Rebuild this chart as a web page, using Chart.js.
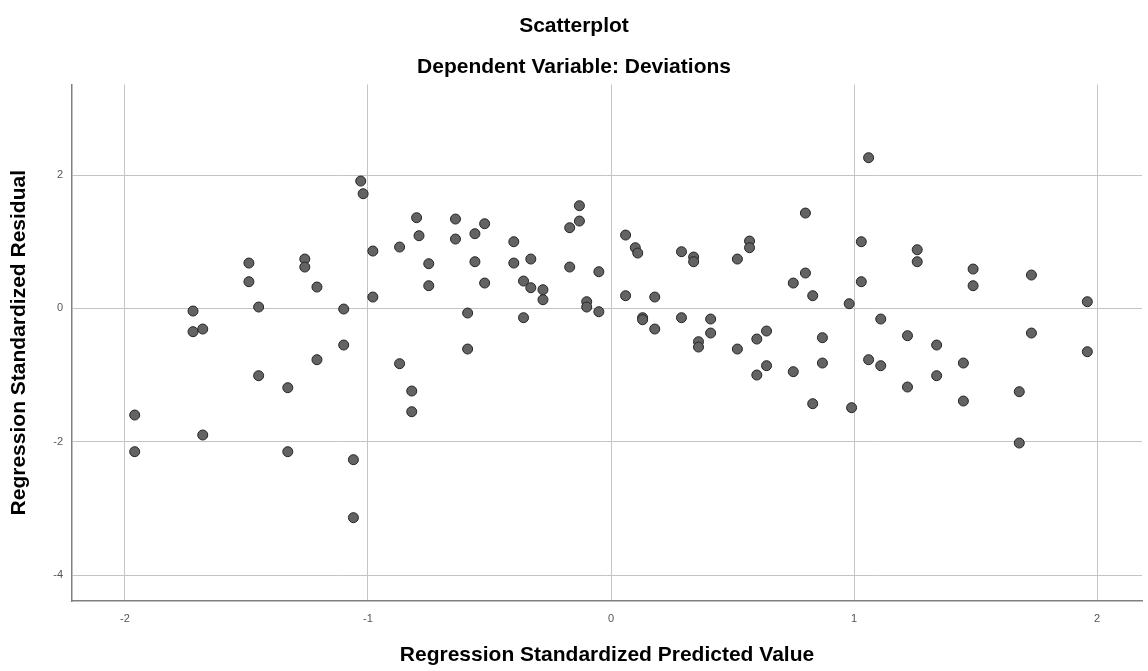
<!DOCTYPE html>
<html>
<head>
<meta charset="utf-8">
<title>Scatterplot</title>
<script src="https://cdn.jsdelivr.net/npm/chart.js@4.4.1/dist/chart.umd.min.js"></script>
<style>
  html, body { margin: 0; padding: 0; background: #fff; }
  canvas { display: block; }
</style>
</head>
<body>
<canvas id="scatter" width="1148" height="671"></canvas>
<script>
// ── DATA ──────────────────────────────────────────────────────────────────

// regression standardized predicted value (x)
const predicted = [
  -1.96, -1.96, -1.72, -1.72, -1.68, -1.68, -1.49, -1.49, -1.45, -1.45,
  -1.33, -1.33, -1.26, -1.26, -1.21, -1.21, -1.10, -1.10, -1.06, -1.06,
  -1.03, -1.02, -0.98, -0.98, -0.87, -0.87, -0.82, -0.82, -0.80, -0.79,
  -0.75, -0.75, -0.64, -0.64, -0.59, -0.59, -0.56, -0.56, -0.52, -0.52,
  -0.40, -0.40, -0.36, -0.36, -0.33, -0.33, -0.28, -0.28, -0.17, -0.17,
  -0.13, -0.13, -0.10, -0.10, -0.05, -0.05,  0.06,  0.06,  0.10,  0.11,
   0.13,  0.13,  0.18,  0.18,  0.29,  0.29,  0.34,  0.34,  0.36,  0.36,
   0.41,  0.41,  0.52,  0.52,  0.57,  0.57,  0.60,  0.60,  0.64,  0.64,
   0.75,  0.75,  0.80,  0.80,  0.83,  0.83,  0.87,  0.87,  0.98,  0.99,
   1.03,  1.03,  1.06,  1.06,  1.11,  1.11,  1.22,  1.22,  1.26,  1.26,
   1.34,  1.34,  1.45,  1.45,  1.49,  1.49,  1.68,  1.68,  1.73,  1.73,
   1.96,  1.96
];

// regression standardized residual (y)
const residual = [
  -1.60, -2.15, -0.04, -0.35, -0.31, -1.90,  0.68,  0.40,  0.02, -1.01,
  -1.19, -2.15,  0.74,  0.62,  0.32, -0.77, -0.01, -0.55, -2.27, -3.14,
   1.91,  1.72,  0.86,  0.17,  0.92, -0.83, -1.24, -1.55,  1.36,  1.09,
   0.67,  0.34,  1.34,  1.04, -0.07, -0.61,  1.12,  0.70,  1.27,  0.38,
   1.00,  0.68,  0.41, -0.14,  0.31,  0.74,  0.28,  0.13,  1.21,  0.62,
   1.54,  1.31,  0.10,  0.02,  0.55, -0.05,  1.10,  0.19,  0.91,  0.83,
  -0.14, -0.17,  0.17, -0.31,  0.85, -0.14,  0.77,  0.70, -0.50, -0.58,
  -0.16, -0.37,  0.74, -0.61,  1.01,  0.91, -0.46, -1.00, -0.34, -0.86,
   0.38, -0.95,  1.43,  0.53,  0.19, -1.43, -0.44, -0.82,  0.07, -1.49,
   1.00,  0.40, -0.77,  2.26, -0.16, -0.86, -0.41, -1.18,  0.88,  0.70,
  -0.55, -1.01, -0.82, -1.39,  0.59,  0.34, -1.25, -2.02,  0.50, -0.37,
   0.10, -0.65
];

const xTicks = [-2, -1, 0, 1, 2];
const yTicks = [-4, -2, 0, 2];

// ── CHART ─────────────────────────────────────────────────────────────────

const FONT = "'Liberation Sans', Arial, sans-serif";
const points = predicted.map(function(x, i) { return { x: x, y: residual[i] }; });

function fixedTicks(values) {
  return function(scale) {
    scale.ticks = values.map(function(v) { return { value: v }; });
  };
}

new Chart(document.getElementById('scatter'), {
  type: 'scatter',
  data: {
    datasets: [{
      data:             points,
      pointRadius:      5,
      pointHoverRadius: 5,
      backgroundColor:  '#636363',
      borderColor:      '#252525',
      borderWidth:      1
    }]
  },
  options: {
    responsive:       false,
    animation:        false,
    devicePixelRatio: 1,
    layout: { padding: { top: 14, right: 0, bottom: 0, left: 0 } },
    plugins: {
      legend:  { display: false },
      tooltip: { enabled: false },
      title: {
        display: true,
        text:    'Scatterplot',
        color:   '#000',
        font:    { family: FONT, size: 21, weight: 'bold', lineHeight: 1.2 },
        padding: { top: 0, bottom: 15 }
      },
      subtitle: {
        display: true,
        text:    'Dependent Variable: Deviations',
        color:   '#000',
        font:    { family: FONT, size: 21, weight: 'bold', lineHeight: 1.2 },
        padding: { top: 0, bottom: 5 }
      }
    },
    scales: {
      x: {
        type: 'linear',
        min:  -2.218,
        max:  2.185,
        afterBuildTicks: fixedTicks(xTicks),
        afterFit: function(s) { s.height = 70; },
        grid:   { color: '#c4c4c4', lineWidth: 1, drawTicks: false },
        border: { display: true, color: '#808080', width: 1.5 },
        ticks:  { padding: 11, color: '#555', font: { family: FONT, size: 11 } },
        title: {
          display: true,
          text:    'Regression Standardized Predicted Value',
          color:   '#000',
          font:    { family: FONT, size: 21, weight: 'bold', lineHeight: 1.2 },
          padding: { top: 0, bottom: 3 }
        }
      },
      y: {
        type: 'linear',
        min:  -4.39,
        max:  3.36,
        afterBuildTicks: fixedTicks(yTicks),
        afterFit: function(s) { s.width = 72; },
        grid:   { color: '#c4c4c4', lineWidth: 1, drawTicks: false },
        border: { display: true, color: '#808080', width: 1.5 },
        ticks:  { padding: 9, color: '#555', font: { family: FONT, size: 11 } },
        title: {
          display: true,
          text:    'Regression Standardized Residual',
          color:   '#000',
          font:    { family: FONT, size: 21, weight: 'bold', lineHeight: 1.2 },
          padding: { top: 7, bottom: 0 }
        }
      }
    }
  }
});
</script>
</body>
</html>
